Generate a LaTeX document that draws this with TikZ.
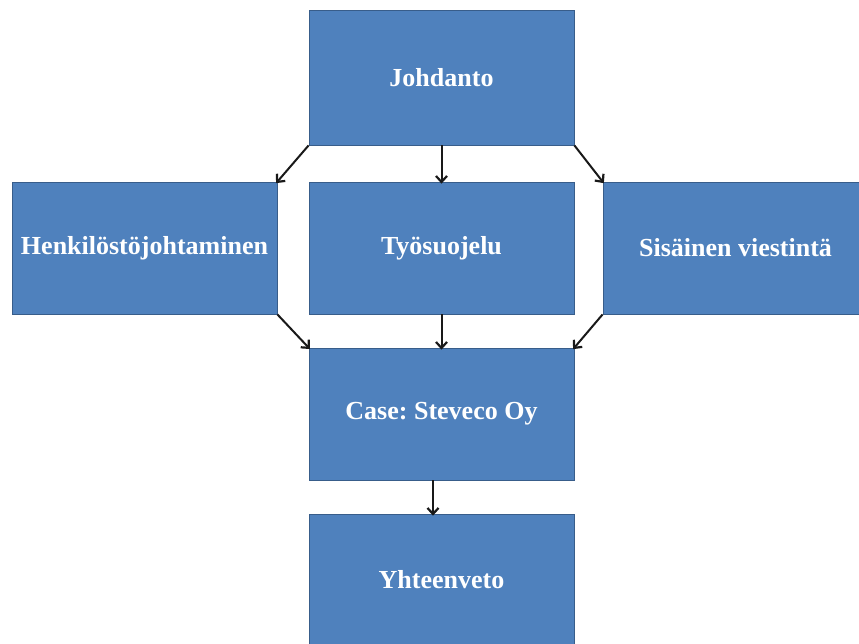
\documentclass[tikz,border=0pt]{standalone}
\usepackage{fontspec}
\setmainfont{Liberation Serif}
\usetikzlibrary{arrows.meta}
\definecolor{boxblue}{HTML}{4F81BD}
\definecolor{boxedge}{HTML}{385D8A}
\begin{document}
\frenchspacing
\begin{tikzpicture}[x=1pt,y=-1pt,
  blockbox/.style={rectangle, fill=boxblue, draw=boxedge, line width=0.8pt,
    minimum width=265pt, minimum height=133pt, inner sep=0pt,
    text=white, font=\fontsize{26}{30}\selectfont\bfseries},
  conn/.style={line width=2pt, draw=black!90, shorten >=-2pt, -{Straight Barb[length=6pt,width=11pt,line width=2.2pt]}}]
\useasboundingbox (0,0) rectangle (859,643);
\clip (0,0) rectangle (859,643);
\node[blockbox, minimum height=135pt] (joh) at (441.5,77.5) {Johdanto};
\node[blockbox, minimum height=132pt] (hen) at (144.5,248) {Henkilöstöjohtaminen};
\node[blockbox, minimum height=132pt] (tyo) at (441.5,248) {Työsuojelu};
\node[blockbox, minimum height=132pt] (sis) at (735.5,248) {Sisäinen viestintä};
\node[blockbox, minimum height=132pt] (cas) at (441.5,414) {Case: Steveco Oy};
\node[blockbox, minimum height=132pt] (yht) at (441.5,580) {Yhteenveto};
\draw[conn] (joh.south west) -- (hen.north east);
\draw[conn] (joh.south) -- (tyo.north);
\draw[conn] (joh.south east) -- (sis.north west);
\draw[conn] (hen.south east) -- (cas.north west);
\draw[conn] (tyo.south) -- (cas.north);
\draw[conn] (sis.south west) -- (cas.north east);
\draw[conn] ([xshift=-8.5pt]cas.south) -- ([xshift=-8.5pt]yht.north);
\end{tikzpicture}
\end{document}
